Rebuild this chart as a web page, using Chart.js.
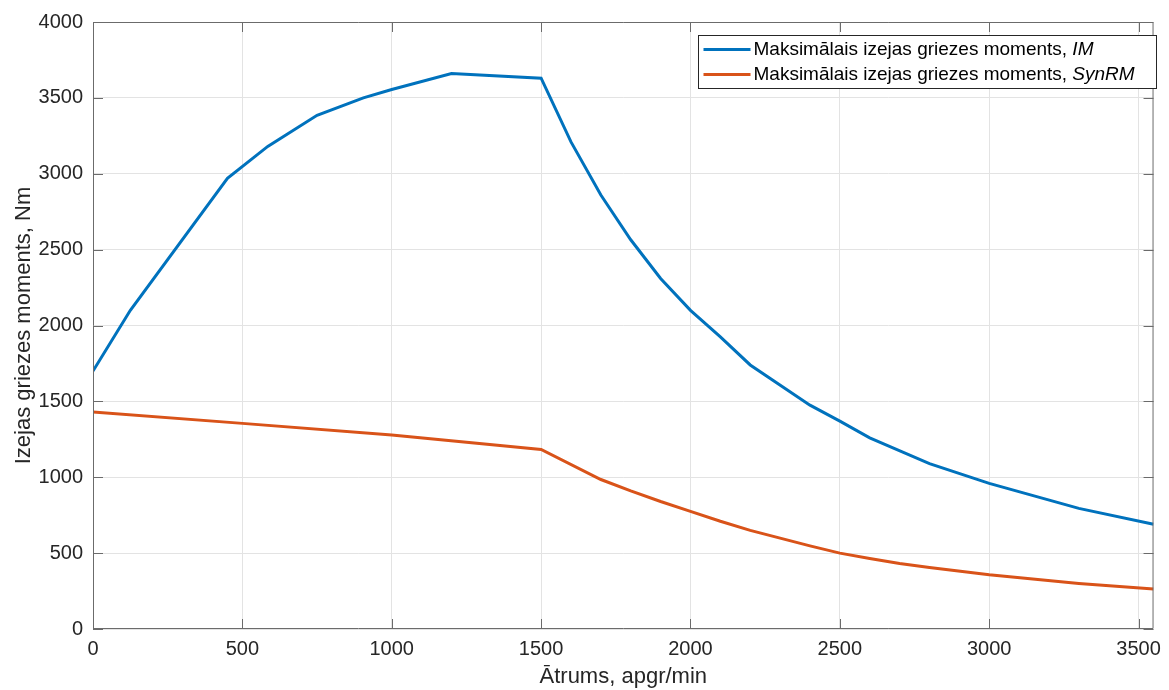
<!DOCTYPE html>
<html>
<head>
<meta charset="utf-8">
<script src="https://cdn.jsdelivr.net/npm/chart.js@4/dist/chart.umd.min.js"></script>
<style>
    html, body { margin: 0; padding: 0; background: #ffffff; }
    #wrap { width: 1169px; height: 690px; }
</style>
</head>
<body>
<div id="wrap"><canvas id="torqueChart" width="1169" height="690"></canvas></div>
<script>
// Speed (apgr/min) and max output torque (Nm)
const imSpeed = [0, 125, 450, 585, 750, 905, 1000, 1200, 1500, 1600, 1700, 1800, 1900, 2000, 2100, 2200, 2400, 2500, 2600, 2800, 3000, 3300, 3550];
const imTorque = [1700, 2100, 2970, 3180, 3385, 3500, 3555, 3660, 3630, 3210, 2860, 2565, 2310, 2100, 1925, 1740, 1475, 1370, 1260, 1090, 960, 795, 690];

const synSpeed = [0, 500, 1000, 1500, 1700, 1800, 1900, 2000, 2100, 2200, 2400, 2500, 2600, 2700, 2800, 3000, 3300, 3550];
const synTorque = [1430, 1355, 1278, 1183, 985, 910, 840, 775, 710, 650, 548, 500, 465, 432, 405, 357, 300, 263];

const xTicks = [0, 500, 1000, 1500, 2000, 2500, 3000, 3500];
const yTicks = [0, 500, 1000, 1500, 2000, 2500, 3000, 3500, 4000];

// Legend entries: plain part + italic part
const legendItems = [
    { text: 'Maksimālais izejas griezes moments, ', italic: 'IM', color: '#0072BD' },
    { text: 'Maksimālais izejas griezes moments, ', italic: 'SynRM', color: '#D95319' }
];

const FONT = 'Arial, "Liberation Sans", Helvetica, sans-serif';
const AXIS_COLOR = '#262626';

function toPoints(xs, ys) {
    return xs.map((x, i) => ({ x: x, y: ys[i] }));
}

// Draw box around axes with inward ticks (MATLAB style)
const boxPlugin = {
    id: 'boxPlugin',
    afterDraw(chart) {
        const { ctx, chartArea: a, scales } = chart;
        const len = 10;
        ctx.save();
        ctx.strokeStyle = '#6b6b6b';
        ctx.lineWidth = 1;
        ctx.beginPath();
        ctx.rect(a.left + 0.5, a.top + 0.5, a.right - a.left - 1, a.bottom - a.top - 1);
        xTicks.forEach(v => {
            const px = Math.round(scales.x.getPixelForValue(v)) + 0.5;
            ctx.moveTo(px, a.bottom);
            ctx.lineTo(px, a.bottom - len);
            ctx.moveTo(px, a.top);
            ctx.lineTo(px, a.top + len);
        });
        yTicks.forEach(v => {
            const py = Math.round(scales.y.getPixelForValue(v)) + 0.5;
            ctx.moveTo(a.left, py);
            ctx.lineTo(a.left + len, py);
            ctx.moveTo(a.right, py);
            ctx.lineTo(a.right - len, py);
        });
        ctx.stroke();
        ctx.restore();
    }
};

// Legend box in the top right corner
const legendPlugin = {
    id: 'legendPlugin',
    afterDraw(chart) {
        const { ctx } = chart;
        const x0 = 698.5, y0 = 35.5, w = 458, h = 53;
        ctx.save();
        ctx.fillStyle = '#ffffff';
        ctx.fillRect(x0, y0, w, h);
        ctx.strokeStyle = '#262626';
        ctx.lineWidth = 1;
        ctx.strokeRect(x0, y0, w, h);
        ctx.textBaseline = 'middle';
        legendItems.forEach((item, i) => {
            const cy = y0 + 14 + i * 25;
            ctx.strokeStyle = item.color;
            ctx.lineWidth = 3;
            ctx.beginPath();
            ctx.moveTo(x0 + 5, cy);
            ctx.lineTo(x0 + 52, cy);
            ctx.stroke();
            ctx.fillStyle = '#000000';
            ctx.font = '19px ' + FONT;
            ctx.fillText(item.text, x0 + 55, cy);
            const tw = ctx.measureText(item.text).width;
            ctx.font = 'italic 19px ' + FONT;
            ctx.fillText(item.italic, x0 + 55 + tw, cy);
        });
        ctx.restore();
    }
};

const ctx = document.getElementById('torqueChart').getContext('2d');
const torqueChart = new Chart(ctx, {
    type: 'line',
    data: {
        datasets: [
            {
                label: 'IM',
                data: toPoints(imSpeed, imTorque),
                borderColor: '#0072BD',
                borderWidth: 3,
                pointRadius: 0,
                tension: 0,
                fill: false
            },
            {
                label: 'SynRM',
                data: toPoints(synSpeed, synTorque),
                borderColor: '#D95319',
                borderWidth: 3,
                pointRadius: 0,
                tension: 0,
                fill: false
            }
        ]
    },
    options: {
        responsive: false,
        animation: false,
        devicePixelRatio: 1,
        layout: { padding: { top: 22, right: 11, left: 0, bottom: 0 } },
        plugins: {
            legend: { display: false },
            tooltip: { enabled: false }
        },
        scales: {
            x: {
                type: 'linear',
                min: 0,
                max: 3550,
                afterFit: s => { s.height = 61; },
                afterBuildTicks: s => { s.ticks = xTicks.map(v => ({ value: v })); },
                ticks: {
                    color: AXIS_COLOR,
                    padding: 8,
                    font: { family: FONT, size: 20 },
                    maxRotation: 0,
                    callback: v => String(v)
                },
                grid: { color: '#e3e3e3', drawTicks: false },
                border: { display: false },
                title: {
                    display: true,
                    text: 'Ātrums, apgr/min',
                    color: AXIS_COLOR,
                    font: { family: FONT, size: 22 },
                    padding: { top: 0, bottom: 0 }
                }
            },
            y: {
                min: 0,
                max: 4000,
                afterFit: s => { s.width = 93; },
                afterBuildTicks: s => { s.ticks = yTicks.map(v => ({ value: v })); },
                ticks: {
                    color: AXIS_COLOR,
                    padding: 10,
                    font: { family: FONT, size: 20 },
                    callback: v => String(v)
                },
                grid: { color: '#e3e3e3', drawTicks: false },
                border: { display: false },
                title: {
                    display: true,
                    text: 'Izejas griezes moments, Nm',
                    color: AXIS_COLOR,
                    font: { family: FONT, size: 22 },
                    padding: { top: 11, bottom: 0 }
                }
            }
        }
    },
    plugins: [boxPlugin, legendPlugin]
});
</script>
</body>
</html>
